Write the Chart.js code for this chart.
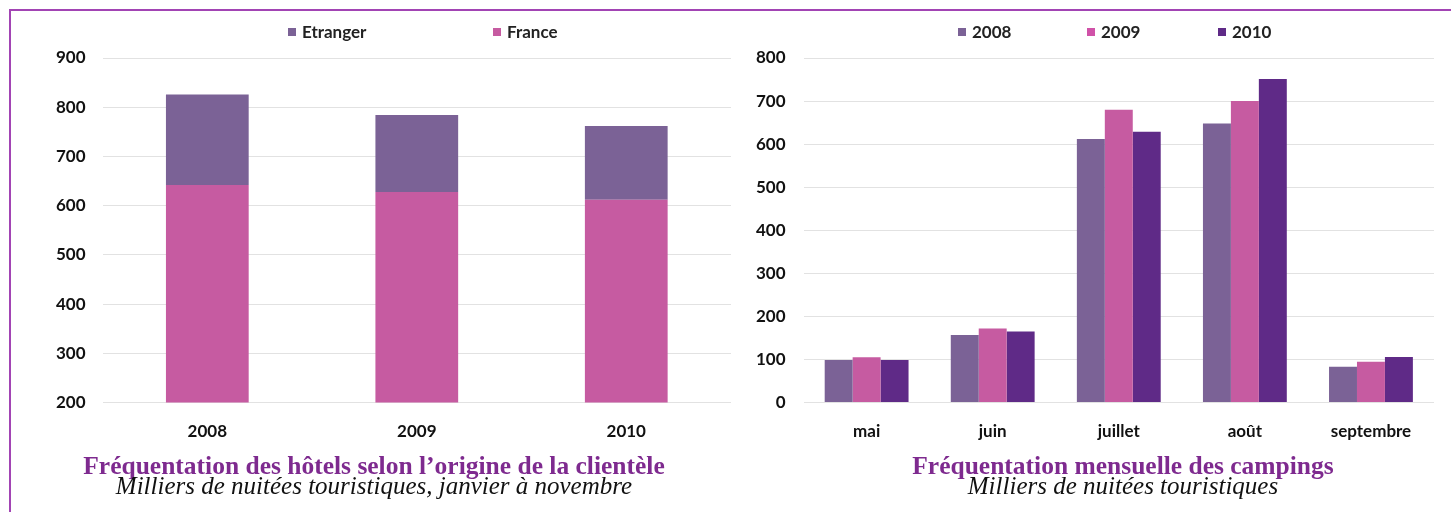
<!DOCTYPE html>
<html>
<head>
<meta charset="utf-8">
<script src="https://cdn.jsdelivr.net/npm/chart.js@4.4.0/dist/chart.umd.min.js"></script>
<style>
  body { margin: 0; background: #fff; width: 1451px; height: 512px; overflow: hidden; position: relative; }
  .frame { position: absolute; left: 9px; top: 9px; width: 1460px; height: 520px; border-top: 2px solid #a244b4; border-left: 2px solid #a244b4; }
  canvas { position: absolute; top: 0; }
  .legend { position: absolute; top: 21px; font: bold 17px Lato, sans-serif; color: #222; }
  .legend span.item { position: absolute; white-space: nowrap; }
  .legend i { display: inline-block; width: 8px; height: 8px; margin-right: 6px; vertical-align: 2px; }
  .title, .sub { position: absolute; width: 700px; text-align: center; font-family: "Liberation Serif", "DejaVu Serif", serif; white-space: nowrap; line-height: 1; }
  .title { color: #7e2a8f; font-size: 25.5px; font-weight: bold; top: 453px; }
  .sub { color: #111; font-size: 25px; font-style: italic; top: 473px; }
</style>
</head>
<body>
<div class="frame"></div>
<canvas id="chart-hotels" width="735" height="469" style="left:0"></canvas>
<canvas id="chart-campings" width="716" height="469" style="left:735px"></canvas>
<div class="legend" id="legend-hotels"></div>
<div class="legend" id="legend-campings"></div>
<div class="title" style="left:24px">Fréquentation des hôtels selon l’origine de la clientèle</div>
<div class="sub" style="left:24px">Milliers de nuitées touristiques, janvier à novembre</div>
<div class="title" style="left:773px">Fréquentation mensuelle des campings</div>
<div class="sub" style="left:773px">Milliers de nuitées touristiques</div>
<script>
// Hotels, stacked by origin
const hotelYears = ['2008', '2009', '2010'];
const hotelFrance = [642, 628, 612];
const hotelEtranger = [184, 156, 150];
const hotelTicks = [200, 300, 400, 500, 600, 700, 800, 900];

// Campings per month
const months = ['mai', 'juin', 'juillet', 'août', 'septembre'];
const camp2008 = [99, 157, 612, 648, 83];
const camp2009 = [105, 172, 680, 700, 95];
const camp2010 = [99, 165, 629, 751, 106];
const campTicks = [0, 100, 200, 300, 400, 500, 600, 700, 800];

const C_2008 = '#7b6296';
const C_2009 = '#c65ba1';
const C_2010 = '#5f2a87';
const TICK_FONT = { family: 'Lato, sans-serif', size: 17, weight: 'bold' };

function legendHtml(el, items, positions) {
  el.innerHTML = items.map((it, i) =>
    `<span class="item" style="left:${positions[i]}px"><i style="background:${it.color}"></i>${it.label}</span>`
  ).join('');
}

legendHtml(document.getElementById('legend-hotels'),
  [{ label: 'Etranger', color: C_2008 }, { label: 'France', color: C_2009 }], [288, 493]);
legendHtml(document.getElementById('legend-campings'),
  [{ label: '2008', color: C_2008 }, { label: '2009', color: '#d052a8' }, { label: '2010', color: C_2010 }], [958, 1087, 1218]);

function yScale(min, max, ticks, pad) {
  return {
    min, max,
    afterBuildTicks: s => { s.ticks = ticks.map(v => ({ value: v })); },
    border: { display: false },
    grid: { color: '#e2e2e2', drawTicks: false },
    ticks: { color: '#111', font: TICK_FONT, padding: pad },
  };
}

const xScale = {
  border: { display: false },
  grid: { display: false, drawTicks: false },
  ticks: { color: '#111', font: TICK_FONT, padding: 19 },
};

new Chart(document.getElementById('chart-hotels'), {
  type: 'bar',
  data: {
    labels: hotelYears,
    datasets: [
      { label: 'France', data: hotelFrance, backgroundColor: C_2009 },
      { label: 'Etranger', data: hotelEtranger, backgroundColor: C_2008 },
    ],
  },
  options: {
    responsive: false,
    animation: false,
    layout: { padding: { left: 39, right: 4, top: 58, bottom: 8 } },
    datasets: { bar: { categoryPercentage: 1, barPercentage: 0.395 } },
    plugins: { legend: { display: false }, tooltip: { enabled: false } },
    scales: {
      x: { ...xScale, stacked: true },
      y: { ...yScale(200, 900, hotelTicks, 17), stacked: true },
    },
  },
});

new Chart(document.getElementById('chart-campings'), {
  type: 'bar',
  data: {
    labels: months,
    datasets: [
      { label: '2008', data: camp2008, backgroundColor: C_2008 },
      { label: '2009', data: camp2009, backgroundColor: C_2009 },
      { label: '2010', data: camp2010, backgroundColor: C_2010 },
    ],
  },
  options: {
    responsive: false,
    animation: false,
    layout: { padding: { left: 3, right: 17, top: 58, bottom: 8 } },
    datasets: { bar: { categoryPercentage: 0.665, barPercentage: 1 } },
    plugins: { legend: { display: false }, tooltip: { enabled: false } },
    scales: {
      x: xScale,
      y: yScale(0, 800, campTicks, 18),
    },
  },
});
</script>
</body>
</html>
